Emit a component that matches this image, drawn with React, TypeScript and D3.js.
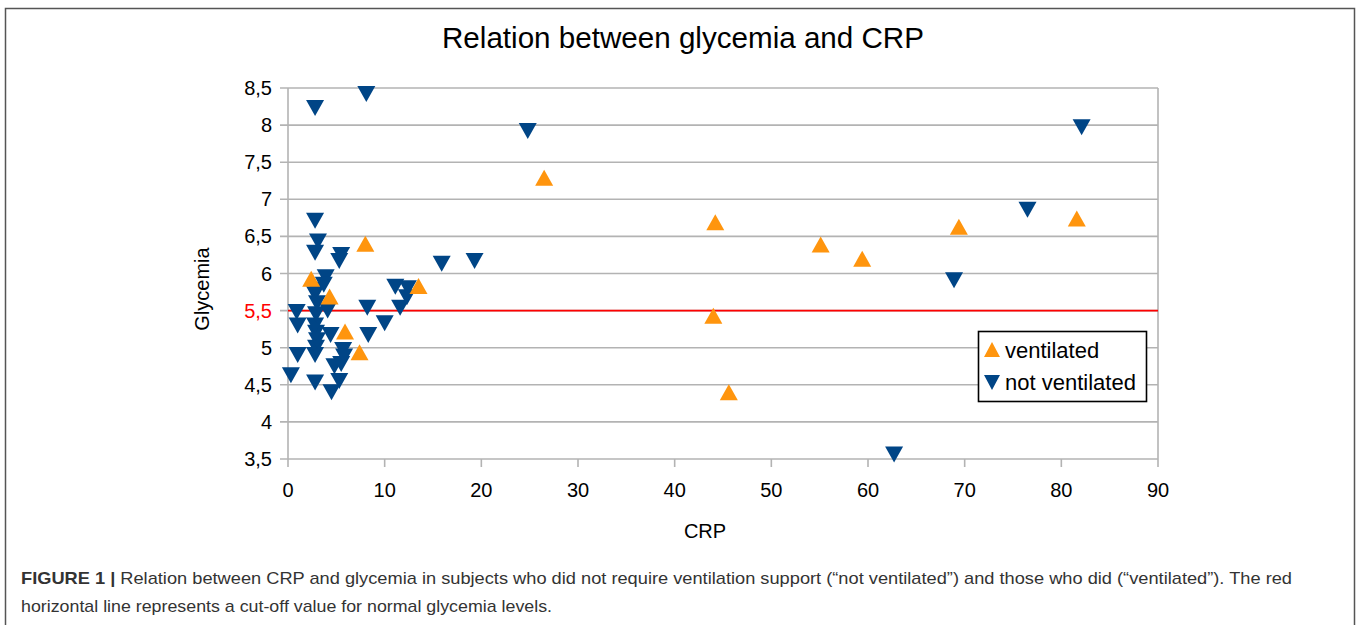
import { useEffect, useRef } from "react";
import * as d3 from "d3";

// glycemia vs CRP
const ventCRP = [26.5, 44.2, 44.0, 45.6, 55.1, 59.4, 69.4, 81.6, 8.0, 13.5, 2.4, 4.3, 5.9, 7.4];
const ventGly = [7.29, 6.69, 5.43, 4.40, 6.39, 6.20, 6.63, 6.74, 6.40, 5.83, 5.93, 5.69, 5.22, 4.94];

const notVentCRP = [
  2.8, 8.1, 24.8, 82.1, 76.5, 68.9, 62.7, 15.9, 19.3, 2.8, 3.1, 2.8, 5.5, 5.3, 3.9,
  11.1, 12.4, 12.3, 11.6, 8.2, 10.0, 8.3, 0.3, 0.9, 1.0, 1.0, 2.8, 2.8, 2.9, 3.0,
  2.9, 2.8, 2.9, 3.0, 2.8, 2.9, 4.5, 5.3, 4.8, 5.5, 5.7, 5.8, 4.4, 4.1, 3.7,
];
const notVentGly = [
  8.23, 8.42, 7.92, 7.97, 6.86, 5.91, 3.56, 6.13, 6.17, 6.71, 6.43, 6.28, 6.25, 6.17, 5.95,
  5.82, 5.80, 5.68, 5.54, 5.54, 5.33, 5.17, 4.63, 5.48, 5.30, 4.90, 4.53, 4.90, 5.00, 5.10,
  5.20, 5.30, 5.45, 5.60, 5.72, 5.78, 4.40, 4.55, 4.75, 4.78, 4.97, 4.88, 5.17, 5.50, 5.85,
];

const yTicks = [3.5, 4, 4.5, 5, 5.5, 6, 6.5, 7, 7.5, 8, 8.5];
const xTicks = [0, 10, 20, 30, 40, 50, 60, 70, 80, 90];
const cutOff = 5.5;

const ORANGE = "#ff950e";
const BLUE = "#004586";
const FONT = "'Liberation Sans', Arial, sans-serif";

export default function App() {
  const ref = useRef<SVGSVGElement>(null);

  useEffect(() => {
    const svg = d3.select(ref.current);
    svg.selectAll("*").remove();

    const x = d3.scaleLinear().domain([0, 90]).range([288, 1158]);
    const y = d3.scaleLinear().domain([3.5, 8.5]).range([459, 88]);
    const fmt = (v: number) => String(v).replace(".", ",");

    // frame
    svg.append("path")
      .attr("d", "M5.5,630 V8.5 H1354.5 V630")
      .attr("fill", "none")
      .attr("stroke", "#555")
      .attr("stroke-width", 1.5);

    svg.append("text")
      .attr("x", 683).attr("y", 48)
      .attr("text-anchor", "middle")
      .attr("font-family", FONT).attr("font-size", 29.6)
      .attr("fill", "#000")
      .text("Relation between glycemia and CRP");

    // grid
    const grid = svg.append("g");
    grid.selectAll("line.h").data(yTicks).join("line")
      .attr("x1", 280).attr("x2", 1158)
      .attr("y1", (d) => y(d)).attr("y2", (d) => y(d))
      .attr("stroke", "#b3b3b3").attr("stroke-width", 1.6);
    grid.selectAll("line.v").data(xTicks).join("line")
      .attr("x1", (d) => x(d)).attr("x2", (d) => x(d))
      .attr("y1", 459).attr("y2", 467)
      .attr("stroke", "#b3b3b3").attr("stroke-width", 1.6);
    grid.append("line")
      .attr("x1", 288).attr("x2", 288).attr("y1", 88).attr("y2", 459)
      .attr("stroke", "#b3b3b3").attr("stroke-width", 1.6);
    grid.append("line")
      .attr("x1", 1158).attr("x2", 1158).attr("y1", 88).attr("y2", 459)
      .attr("stroke", "#b3b3b3").attr("stroke-width", 1.6);

    // tick labels
    svg.append("g").selectAll("text").data(yTicks).join("text")
      .attr("x", 272).attr("y", (d) => y(d) + 7)
      .attr("text-anchor", "end")
      .attr("font-family", FONT).attr("font-size", 20)
      .attr("fill", (d) => (d === cutOff ? "#ff0000" : "#000"))
      .text(fmt);
    svg.append("g").selectAll("text").data(xTicks).join("text")
      .attr("x", (d) => x(d)).attr("y", 497)
      .attr("text-anchor", "middle")
      .attr("font-family", FONT).attr("font-size", 20)
      .attr("fill", "#000")
      .text(fmt);

    svg.append("text")
      .attr("x", 705).attr("y", 538)
      .attr("text-anchor", "middle")
      .attr("font-family", FONT).attr("font-size", 20)
      .text("CRP");
    svg.append("text")
      .attr("transform", "translate(209,289) rotate(-90)")
      .attr("text-anchor", "middle")
      .attr("font-family", FONT).attr("font-size", 20)
      .text("Glycemia");

    // cut-off line
    svg.append("line")
      .attr("x1", x(0)).attr("x2", x(90))
      .attr("y1", y(cutOff)).attr("y2", y(cutOff))
      .attr("stroke", "#ff0000").attr("stroke-width", 1.6);

    const downTri = "M-9,-8 L9,-8 L0,8 Z";
    const upTri = "M0,-8 L9,8 L-9,8 Z";

    const notVent = notVentCRP.map((c, i) => ({ c, g: notVentGly[i] }));
    const vent = ventCRP.map((c, i) => ({ c, g: ventGly[i] }));

    svg.append("g").selectAll("path").data(notVent).join("path")
      .attr("d", downTri)
      .attr("transform", (d) => `translate(${x(d.c)},${y(d.g)})`)
      .attr("fill", BLUE);
    svg.append("g").selectAll("path").data(vent).join("path")
      .attr("d", upTri)
      .attr("transform", (d) => `translate(${x(d.c)},${y(d.g)})`)
      .attr("fill", ORANGE);

    // legend
    const lg = svg.append("g");
    lg.append("rect")
      .attr("x", 978.5).attr("y", 331.5).attr("width", 168).attr("height", 70)
      .attr("fill", "#fff").attr("stroke", "#000").attr("stroke-width", 1.6);
    lg.append("path").attr("d", "M0,-8 L8,7 L-8,7 Z")
      .attr("transform", "translate(992,350)").attr("fill", ORANGE);
    lg.append("path").attr("d", "M-8,-7 L8,-7 L0,8 Z")
      .attr("transform", "translate(992,382)").attr("fill", BLUE);
    lg.append("text").attr("x", 1005).attr("y", 358)
      .attr("font-family", FONT).attr("font-size", 22).text("ventilated");
    lg.append("text").attr("x", 1005).attr("y", 390)
      .attr("font-family", FONT).attr("font-size", 22).text("not ventilated");

    // caption
    const cap = svg.append("text")
      .attr("x", 21).attr("y", 584)
      .attr("font-family", FONT).attr("font-size", 17)
      .attr("fill", "#333")
      .attr("textLength", 1271)
      .attr("lengthAdjust", "spacingAndGlyphs");
    cap.append("tspan").attr("font-weight", "bold").text("FIGURE 1 | ");
    cap.append("tspan").text(
      "Relation between CRP and glycemia in subjects who did not require ventilation support (\u201cnot ventilated\u201d) and those who did (\u201cventilated\u201d). The red"
    );
    svg.append("text")
      .attr("x", 21).attr("y", 612)
      .attr("font-family", FONT).attr("font-size", 17)
      .attr("fill", "#333")
      .attr("textLength", 531)
      .attr("lengthAdjust", "spacingAndGlyphs")
      .text("horizontal line represents a cut-off value for normal glycemia levels.");
  }, []);

  return (
    <svg
      ref={ref}
      width={1358}
      height={625}
      style={{ position: "absolute", left: 0, top: 0, background: "#fff" }}
    />
  );
}
